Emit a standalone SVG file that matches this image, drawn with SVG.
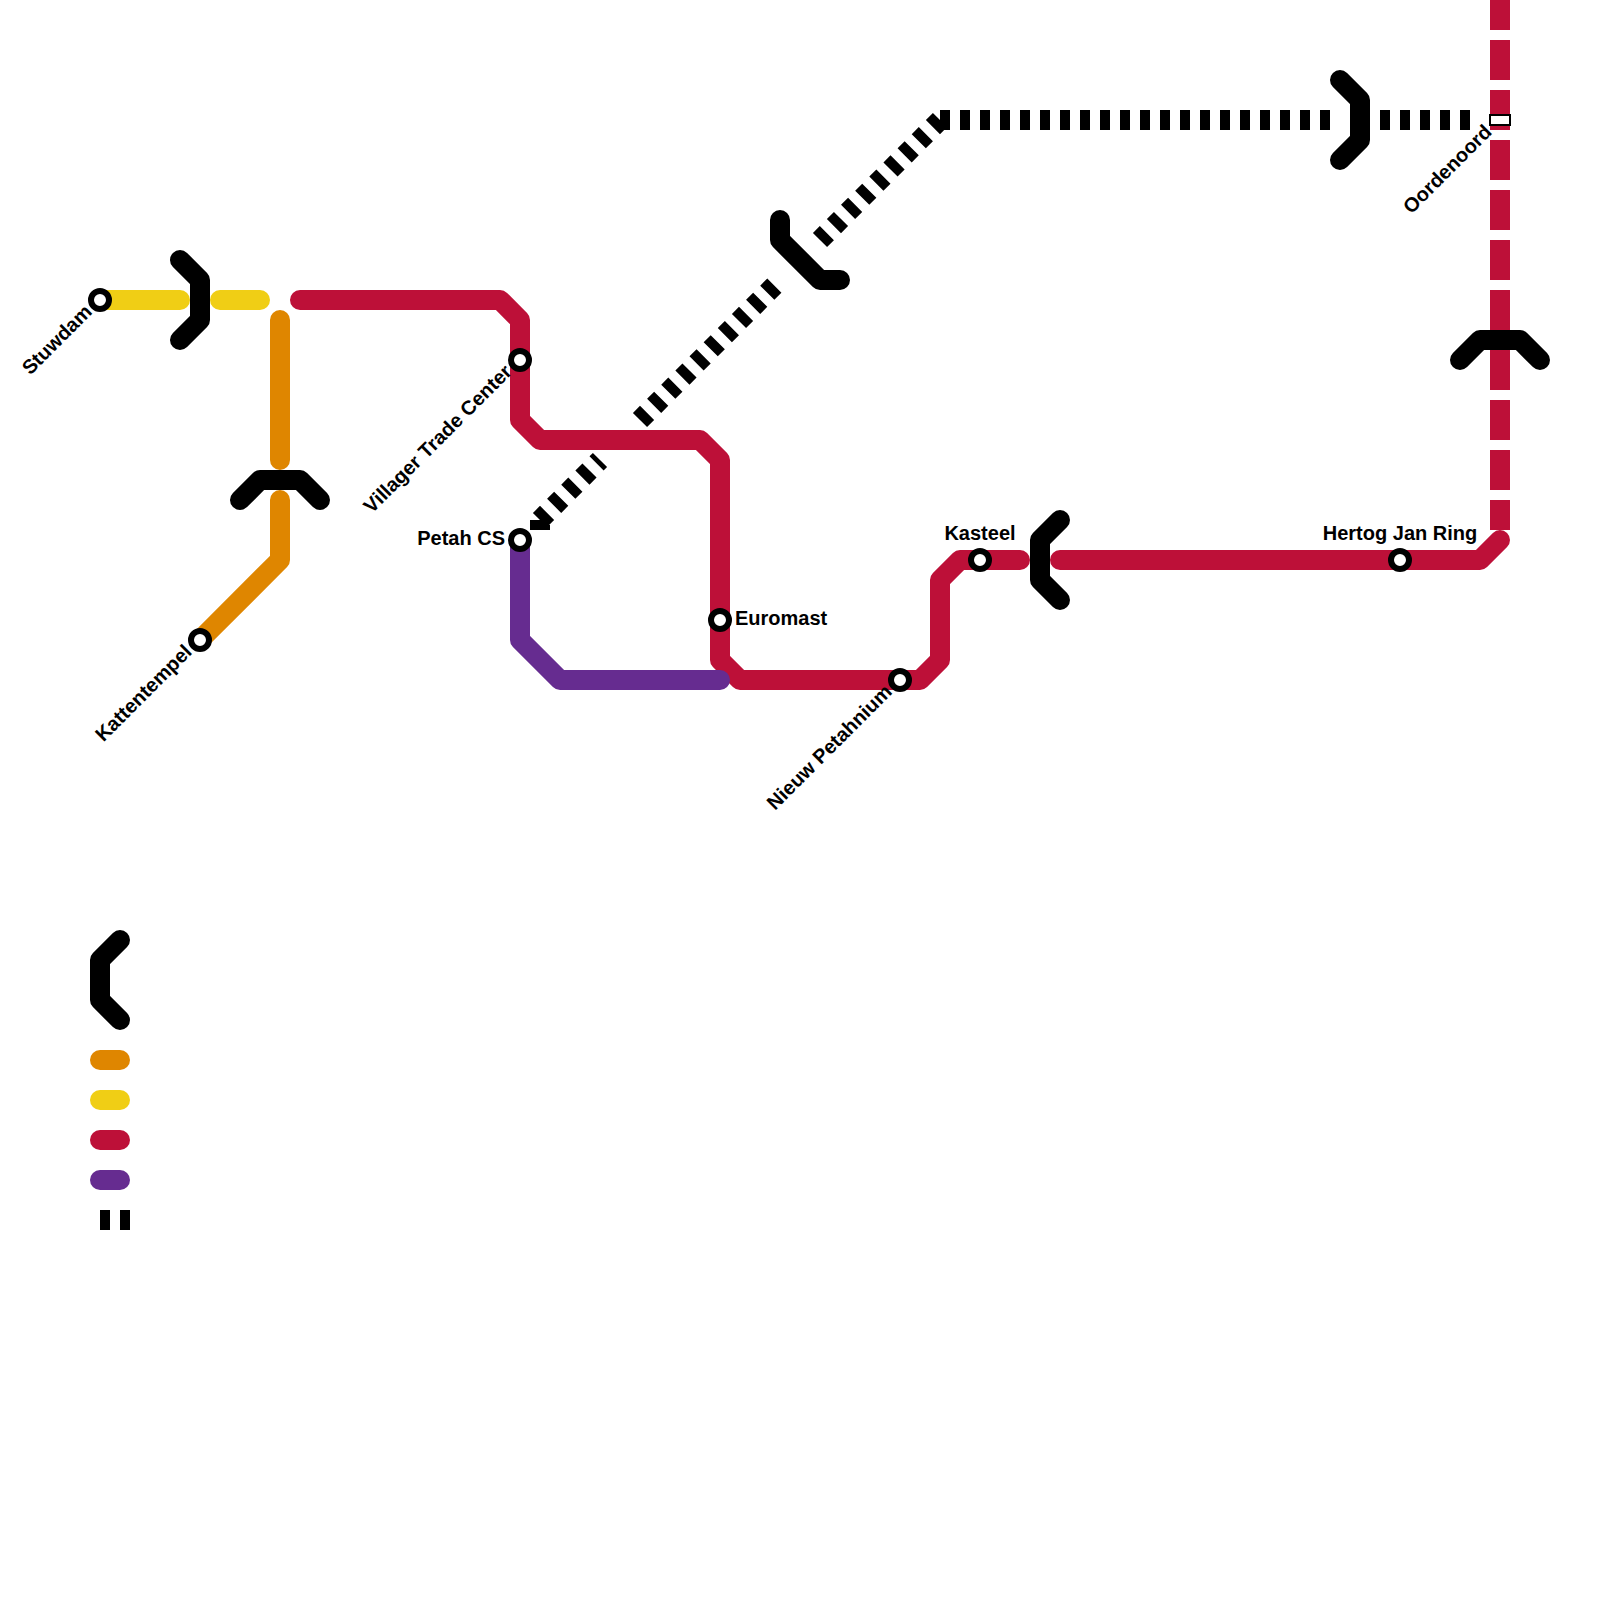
<svg xmlns="http://www.w3.org/2000/svg" width="1600" height="1600" viewBox="0 0 1600 1600">
<style>
.l{fill:none;stroke-width:20;stroke-linecap:round;stroke-linejoin:round}
.o{stroke:#df8600}.y{stroke:#f0ce15}.r{stroke:#bd1038}.p{stroke:#662c90}
.t{fill:none;stroke:#000;stroke-width:20;stroke-linecap:round;stroke-linejoin:round}
.d{fill:none;stroke:#000;stroke-width:20;stroke-dasharray:10 10}
.rd{fill:none;stroke:#bd1038;stroke-width:20;stroke-dasharray:40 10}
.s{fill:#fff;stroke:#000;stroke-width:6}
text{font-family:"Liberation Sans",Arial,sans-serif;font-weight:700;font-size:20px;fill:#000}
</style>
<rect width="1600" height="1600" fill="#fff"/>
<g id="connectors">
<path class="l o" d="M280 320V460M280 500V560L200 640"/>
<path class="l y" d="M100 300H180M220 300H260"/>
<path class="l r" d="M300 300H500L520 320V420L540 440H700L720 460V660L740 680H920L940 660V580L960 560H1020"/>
<path class="l r" d="M1060 560H1480L1500 540"/>
<path class="rd" d="M1500 -10V340M1500 350V530"/>
<path class="l p" d="M520 540V640L560 680H720"/>
<path class="d" d="M540 520L600 460M640 420L780 280M940 120L820 240M940 120H1330M1380 120H1470M540 520V530"/>
<path class="t" d="M180 260L200 280V320L180 340"/>
<path class="t" d="M240 500L260 480H300L320 500"/>
<path class="t" d="M780 220V240L820 280H840"/>
<path class="t" d="M1060 520L1040 540V580L1060 600"/>
<path class="t" d="M1340 80L1360 100V140L1340 160"/>
<path class="t" d="M1460 360L1480 340H1520L1540 360"/>
</g>
<g id="stuwdam"><circle class="s" cx="100" cy="300" r="9"/><text transform="translate(93 313) rotate(-45)" text-anchor="end">Stuwdam</text></g>
<g id="kattentempel"><circle class="s" cx="200" cy="640" r="9"/><text transform="translate(193 653) rotate(-45)" text-anchor="end">Kattentempel</text></g>
<g id="villager-trade-center"><circle class="s" cx="520" cy="360" r="9"/><text transform="translate(513 373) rotate(-45)" text-anchor="end">Villager Trade Center</text></g>
<g id="petah-cs"><circle class="s" cx="520" cy="540" r="9"/><text x="505" y="545" text-anchor="end">Petah CS</text></g>
<g id="euromast"><circle class="s" cx="720" cy="620" r="9"/><text x="735" y="625">Euromast</text></g>
<g id="nieuw-petahnium"><circle class="s" cx="900" cy="680" r="9"/><text transform="translate(893 693) rotate(-45)" text-anchor="end">Nieuw Petahnium</text></g>
<g id="kasteel"><circle class="s" cx="980" cy="560" r="9"/><text x="980" y="540" text-anchor="middle">Kasteel</text></g>
<g id="hertog-jan-ring"><circle class="s" cx="1400" cy="560" r="9"/><text x="1400" y="540" text-anchor="middle">Hertog Jan Ring</text></g>
<g id="oordenoord"><rect x="1490" y="115" width="20" height="10" fill="#fff" stroke="#000" stroke-width="2"/><text transform="translate(1493 133) rotate(-45)" text-anchor="end">Oordenoord</text></g>
<g id="legend">
<path class="t" d="M120 940L100 960V1000L120 1020"/>
<path class="l o" d="M100 1060H120"/>
<path class="l y" d="M100 1100H120"/>
<path class="l r" d="M100 1140H120"/>
<path class="l p" d="M100 1180H120"/>
<path class="d" d="M100 1220H130"/>
</g>
</svg>
